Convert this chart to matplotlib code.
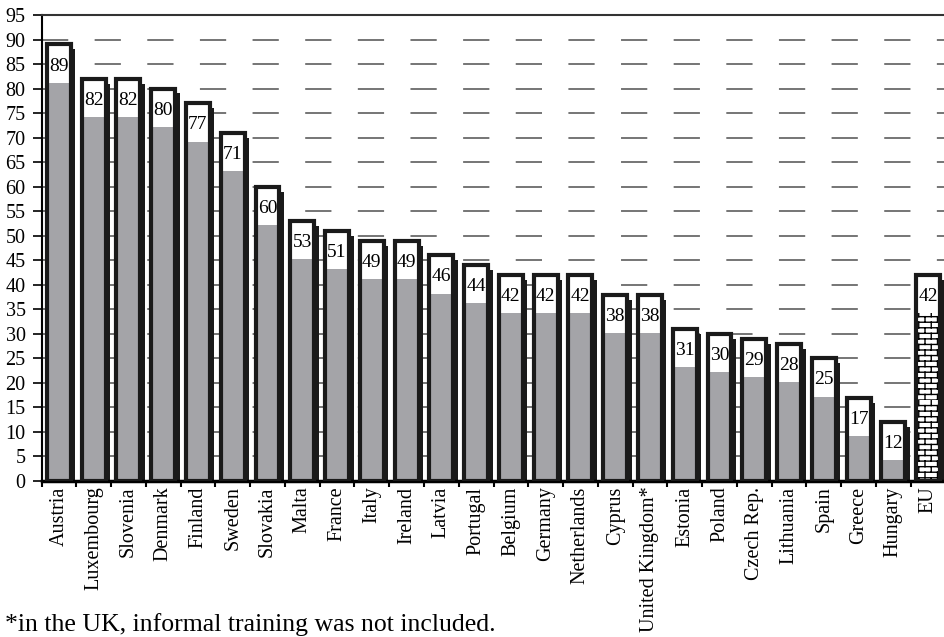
import warnings
import numpy as np
import matplotlib
matplotlib.use('Agg')
import matplotlib.pyplot as plt
from matplotlib import hatch as mhatch
from matplotlib.path import Path

warnings.filterwarnings('ignore', message='hatch must consist')

countries = ['Austria', 'Luxembourg', 'Slovenia', 'Denmark', 'Finland', 'Sweden',
             'Slovakia', 'Malta', 'France', 'Italy', 'Ireland', 'Latvia', 'Portugal',
             'Belgium', 'Germany', 'Netherlands', 'Cyprus', 'United Kingdom*',
             'Estonia', 'Poland', 'Czech Rep.', 'Lithuania', 'Spain', 'Greece',
             'Hungary', 'EU']
values = [89, 82, 82, 80, 77, 71, 60, 53, 51, 49, 49, 46, 44, 42, 42, 42, 38, 38,
          31, 30, 29, 28, 25, 17, 12, 42]
footnote = '*in the UK, informal training was not included.'


# brick pattern for the EU bar
class BrickHatch(mhatch.HatchPatternBase):
    def __init__(self, hatch, density):
        self.num_rows = hatch.count('b') * density * 3
        self.num_bricks = 8
        if self.num_rows:
            self.num_vertices = self.num_rows * 2 + self.num_rows * self.num_bricks * 2
        else:
            self.num_vertices = 0

    def set_vertices_and_codes(self, vertices, codes):
        n, m = self.num_rows, self.num_bricks
        ys = np.arange(n) / n
        vertices[0:2 * n:2, 0] = 0
        vertices[1:2 * n:2, 0] = 1
        vertices[0:2 * n:2, 1] = ys
        vertices[1:2 * n:2, 1] = ys
        k = 2 * n
        for r in range(n):
            off = 0.5 / m if r % 2 else 0
            for j in range(m):
                x = j / m + off
                vertices[k] = (x, ys[r])
                vertices[k + 1] = (x, ys[r] + 1 / n)
                k += 2
        codes[0::2] = Path.MOVETO
        codes[1::2] = Path.LINETO


mhatch._hatch_types.append(BrickHatch)

plt.rcParams['font.family'] = ['Liberation Serif', 'DejaVu Serif']
plt.rcParams['hatch.linewidth'] = 1.0

fig = plt.figure(figsize=(9.44, 6.37), dpi=100)
# the right end of the plot runs slightly past the picture edge, as in the original
ax = fig.add_axes([41.5 / 944, 1 - 481 / 637, 904 / 944, 466 / 637])

x = np.arange(len(countries))
w = 0.69
box = 7.8      # height of white label box
grey = '#a4a4a8'

for i, v in enumerate(values):
    ax.bar(i + 0.13, v - 1.0, width=w, color='#1a1a1a', zorder=2)
    ax.bar(i, v, width=w, color='white', zorder=2.2)
    if countries[i] == 'EU':
        ax.bar(i, v - box, width=w, facecolor='white', edgecolor='black',
               linewidth=0, hatch='b', zorder=2.3)
    else:
        ax.bar(i, v - box, width=w, color=grey, zorder=2.3)
    ax.bar(i, v, width=w, fill=False, edgecolor='#1a1a1a', linewidth=3.0, zorder=3)
    ax.text(i, v - 4.4, str(v), ha='center', va='center', fontsize=14, zorder=4)

ax.set_xlim(-0.5, len(countries) - 0.5)
ax.set_ylim(0, 95)
ax.set_yticks(np.arange(0, 96, 5))
ax.yaxis.grid(True, color='#5e5e5e', linewidth=1.2,
              linestyle=(0, (18.9 / 1.2, 19.0 / 1.2)), zorder=0.5)
ax.set_axisbelow(True)

ax.set_xticks(x)
ax.set_xticklabels(countries, rotation=90, fontsize=14.5)
ax.set_xticks(np.arange(-0.5, len(countries), 1), minor=True)
ax.tick_params(axis='x', which='major', length=0, pad=4)
ax.tick_params(axis='x', which='minor', length=4.3, width=1.5, direction='out')
ax.tick_params(axis='y', labelsize=14.5, length=6.5, width=1.2, direction='out', pad=5)

ax.spines['right'].set_visible(False)
ax.spines['top'].set_linewidth(1.5)
ax.spines['top'].set_color('#333333')
ax.spines['left'].set_linewidth(1.5)
ax.spines['bottom'].set_linewidth(2.5)

fig.text(5 / 944, 0.5 / 637, footnote, ha='left', va='bottom', fontsize=18.5)

fig.savefig('out.png', dpi=100)
